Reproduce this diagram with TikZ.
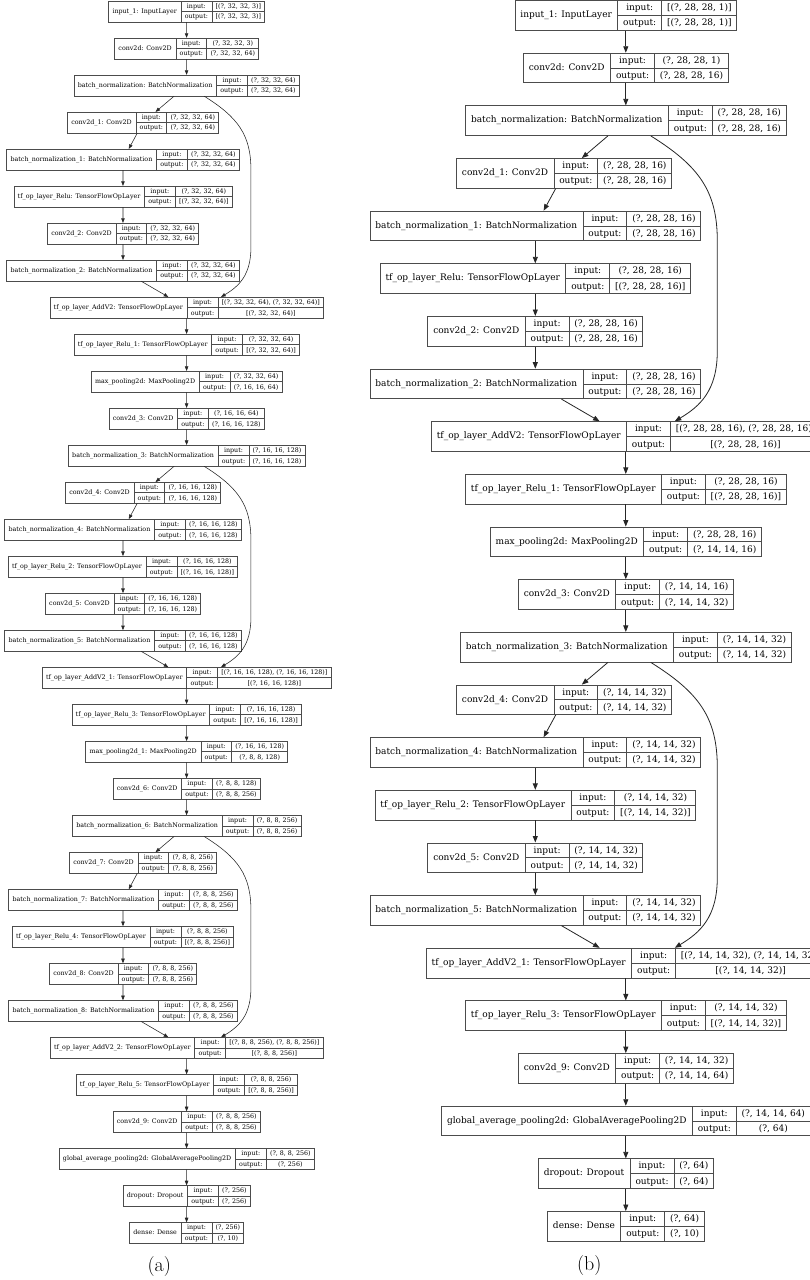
\documentclass[tikz,border=0pt]{standalone}
\usepackage{fontspec}
\usepackage{xcolor,colortbl}
\usetikzlibrary{arrows.meta}
\newfontfamily\kerasfont{DejaVu Serif}
\setlength{\arrayrulewidth}{0.8pt}
\arrayrulecolor{black!70}
\newcommand{\lyr}[3]{%
  \begin{tabular}{@{\hspace{5.5pt}}c@{\hspace{5.5pt}}|@{}c@{}}
    #1 & \begin{tabular}{@{\hspace{5pt}}c@{\hspace{5pt}}|@{\hspace{5pt}}c@{\hspace{5pt}}}
      input: & #2\\ \hline
      output: & #3
    \end{tabular}
  \end{tabular}}
\tikzset{
  layer/.style={draw=black!70, line width=0.8pt, inner sep=0pt, font=\kerasfont\fontsize{9}{14.45}\selectfont},
  arr/.style={-{Triangle[length=6.5pt,width=5pt]}, line width=0.8pt, black!85},
  caption/.style={font=\fontsize{20}{24}\selectfont}
}
\begin{document}
\begin{tikzpicture}[x=1pt,y=-1pt]
\useasboundingbox (0,0) rectangle (810,1280);

% (a)
\begin{scope}[shift={(186.6,11.5)}, scale=0.703, transform shape, y=-52.65pt,
  layer/.append style={line width=0.56pt},
  arr/.append style={-{Triangle[length=4.6pt,width=3.5pt]}, line width=0.56pt}]
\node[layer] (a0) at (0,0) {\lyr{input\_1: InputLayer}{[(?, 32, 32, 3)]}{[(?, 32, 32, 3)]}};
\node[layer] (a1) at (0,1) {\lyr{conv2d: Conv2D}{(?, 32, 32, 3)}{(?, 32, 32, 64)}};
\node[layer] (a2) at (0,2) {\lyr{batch\_normalization: BatchNormalization}{(?, 32, 32, 64)}{(?, 32, 32, 64)}};
\node[layer] (a3) at (-62,3) {\lyr{conv2d\_1: Conv2D}{(?, 32, 32, 64)}{(?, 32, 32, 64)}};
\node[layer] (a4) at (-90.5,4) {\lyr{batch\_normalization\_1: BatchNormalization}{(?, 32, 32, 64)}{(?, 32, 32, 64)}};
\node[layer] (a5) at (-90.5,5) {\lyr{tf\_op\_layer\_Relu: TensorFlowOpLayer}{(?, 32, 32, 64)}{[(?, 32, 32, 64)]}};
\node[layer] (a6) at (-90.5,6) {\lyr{conv2d\_2: Conv2D}{(?, 32, 32, 64)}{(?, 32, 32, 64)}};
\node[layer] (a7) at (-90.5,7) {\lyr{batch\_normalization\_2: BatchNormalization}{(?, 32, 32, 64)}{(?, 32, 32, 64)}};
\node[layer] (a8) at (0,8) {\lyr{tf\_op\_layer\_AddV2: TensorFlowOpLayer}{[(?, 32, 32, 64), (?, 32, 32, 64)]}{[(?, 32, 32, 64)]}};
\node[layer] (a9) at (0,9) {\lyr{tf\_op\_layer\_Relu\_1: TensorFlowOpLayer}{(?, 32, 32, 64)}{[(?, 32, 32, 64)]}};
\node[layer] (a10) at (0,10) {\lyr{max\_pooling2d: MaxPooling2D}{(?, 32, 32, 64)}{(?, 16, 16, 64)}};
\node[layer] (a11) at (0,11) {\lyr{conv2d\_3: Conv2D}{(?, 16, 16, 64)}{(?, 16, 16, 128)}};
\node[layer] (a12) at (0,12) {\lyr{batch\_normalization\_3: BatchNormalization}{(?, 16, 16, 128)}{(?, 16, 16, 128)}};
\node[layer] (a13) at (-62,13) {\lyr{conv2d\_4: Conv2D}{(?, 16, 16, 128)}{(?, 16, 16, 128)}};
\node[layer] (a14) at (-90.5,14) {\lyr{batch\_normalization\_4: BatchNormalization}{(?, 16, 16, 128)}{(?, 16, 16, 128)}};
\node[layer] (a15) at (-90.5,15) {\lyr{tf\_op\_layer\_Relu\_2: TensorFlowOpLayer}{(?, 16, 16, 128)}{[(?, 16, 16, 128)]}};
\node[layer] (a16) at (-90.5,16) {\lyr{conv2d\_5: Conv2D}{(?, 16, 16, 128)}{(?, 16, 16, 128)}};
\node[layer] (a17) at (-90.5,17) {\lyr{batch\_normalization\_5: BatchNormalization}{(?, 16, 16, 128)}{(?, 16, 16, 128)}};
\node[layer] (a18) at (0,18) {\lyr{tf\_op\_layer\_AddV2\_1: TensorFlowOpLayer}{[(?, 16, 16, 128), (?, 16, 16, 128)]}{[(?, 16, 16, 128)]}};
\node[layer] (a19) at (0,19) {\lyr{tf\_op\_layer\_Relu\_3: TensorFlowOpLayer}{(?, 16, 16, 128)}{[(?, 16, 16, 128)]}};
\node[layer] (a20) at (0,20) {\lyr{max\_pooling2d\_1: MaxPooling2D}{(?, 16, 16, 128)}{(?, 8, 8, 128)}};
\node[layer] (a21) at (0,21) {\lyr{conv2d\_6: Conv2D}{(?, 8, 8, 128)}{(?, 8, 8, 256)}};
\node[layer] (a22) at (0,22) {\lyr{batch\_normalization\_6: BatchNormalization}{(?, 8, 8, 256)}{(?, 8, 8, 256)}};
\node[layer] (a23) at (-62,23) {\lyr{conv2d\_7: Conv2D}{(?, 8, 8, 256)}{(?, 8, 8, 256)}};
\node[layer] (a24) at (-90.5,24) {\lyr{batch\_normalization\_7: BatchNormalization}{(?, 8, 8, 256)}{(?, 8, 8, 256)}};
\node[layer] (a25) at (-90.5,25) {\lyr{tf\_op\_layer\_Relu\_4: TensorFlowOpLayer}{(?, 8, 8, 256)}{[(?, 8, 8, 256)]}};
\node[layer] (a26) at (-90.5,26) {\lyr{conv2d\_8: Conv2D}{(?, 8, 8, 256)}{(?, 8, 8, 256)}};
\node[layer] (a27) at (-90.5,27) {\lyr{batch\_normalization\_8: BatchNormalization}{(?, 8, 8, 256)}{(?, 8, 8, 256)}};
\node[layer] (a28) at (0,28) {\lyr{tf\_op\_layer\_AddV2\_2: TensorFlowOpLayer}{[(?, 8, 8, 256), (?, 8, 8, 256)]}{[(?, 8, 8, 256)]}};
\node[layer] (a29) at (0,29) {\lyr{tf\_op\_layer\_Relu\_5: TensorFlowOpLayer}{(?, 8, 8, 256)}{[(?, 8, 8, 256)]}};
\node[layer] (a30) at (0,30) {\lyr{conv2d\_9: Conv2D}{(?, 8, 8, 256)}{(?, 8, 8, 256)}};
\node[layer] (a31) at (0,31) {\lyr{global\_average\_pooling2d: GlobalAveragePooling2D}{(?, 8, 8, 256)}{(?, 256)}};
\node[layer] (a32) at (0,32) {\lyr{dropout: Dropout}{(?, 256)}{(?, 256)}};
\node[layer] (a33) at (0,33) {\lyr{dense: Dense}{(?, 256)}{(?, 10)}};
\draw[arr] (a0) -- (a1);
\draw[arr] (a1) -- (a2);
\draw[arr] (a2) -- (a3);
\draw[arr] (a3) -- (a4);
\draw[arr] (a4) -- (a5);
\draw[arr] (a5) -- (a6);
\draw[arr] (a6) -- (a7);
\draw[arr] (a7) -- (a8);
\draw[arr] (a8) -- (a9);
\draw[arr] (a9) -- (a10);
\draw[arr] (a10) -- (a11);
\draw[arr] (a11) -- (a12);
\draw[arr] (a12) -- (a13);
\draw[arr] (a13) -- (a14);
\draw[arr] (a14) -- (a15);
\draw[arr] (a15) -- (a16);
\draw[arr] (a16) -- (a17);
\draw[arr] (a17) -- (a18);
\draw[arr] (a18) -- (a19);
\draw[arr] (a19) -- (a20);
\draw[arr] (a20) -- (a21);
\draw[arr] (a21) -- (a22);
\draw[arr] (a22) -- (a23);
\draw[arr] (a23) -- (a24);
\draw[arr] (a24) -- (a25);
\draw[arr] (a25) -- (a26);
\draw[arr] (a26) -- (a27);
\draw[arr] (a27) -- (a28);
\draw[arr] (a28) -- (a29);
\draw[arr] (a29) -- (a30);
\draw[arr] (a30) -- (a31);
\draw[arr] (a31) -- (a32);
\draw[arr] (a32) -- (a33);
% shortcuts
\draw[arr] ([xshift=25pt]a2.south) .. controls +(48pt,-30pt) and +(0pt,50pt) .. ++(66.5pt,-105pt) -- ++(0pt,-110pt) .. controls +(0pt,-40pt) and +(25pt,15pt) .. ([xshift=49pt]a8.north);
\draw[arr] ([xshift=25pt]a12.south) .. controls +(48pt,-30pt) and +(0pt,50pt) .. ++(66.5pt,-105pt) -- ++(0pt,-110pt) .. controls +(0pt,-40pt) and +(25pt,15pt) .. ([xshift=49pt]a18.north);
\draw[arr] ([xshift=25pt]a22.south) .. controls +(48pt,-30pt) and +(0pt,50pt) .. ++(66.5pt,-105pt) -- ++(0pt,-110pt) .. controls +(0pt,-40pt) and +(25pt,15pt) .. ([xshift=49pt]a28.north);
\end{scope}

% (b)
\begin{scope}[shift={(625.8,15.35)}, y=-52.65pt]
\node[layer] (b0) at (0,0) {\lyr{input\_1: InputLayer}{[(?, 28, 28, 1)]}{[(?, 28, 28, 1)]}};
\node[layer] (b1) at (0,1) {\lyr{conv2d: Conv2D}{(?, 28, 28, 1)}{(?, 28, 28, 16)}};
\node[layer] (b2) at (0,2) {\lyr{batch\_normalization: BatchNormalization}{(?, 28, 28, 16)}{(?, 28, 28, 16)}};
\node[layer] (b3) at (-61.8,3) {\lyr{conv2d\_1: Conv2D}{(?, 28, 28, 16)}{(?, 28, 28, 16)}};
\node[layer] (b4) at (-90.5,4) {\lyr{batch\_normalization\_1: BatchNormalization}{(?, 28, 28, 16)}{(?, 28, 28, 16)}};
\node[layer] (b5) at (-90.5,5) {\lyr{tf\_op\_layer\_Relu: TensorFlowOpLayer}{(?, 28, 28, 16)}{[(?, 28, 28, 16)]}};
\node[layer] (b6) at (-90.5,6) {\lyr{conv2d\_2: Conv2D}{(?, 28, 28, 16)}{(?, 28, 28, 16)}};
\node[layer] (b7) at (-90.5,7) {\lyr{batch\_normalization\_2: BatchNormalization}{(?, 28, 28, 16)}{(?, 28, 28, 16)}};
\node[layer] (b8) at (0,8) {\lyr{tf\_op\_layer\_AddV2: TensorFlowOpLayer}{[(?, 28, 28, 16), (?, 28, 28, 16)]}{[(?, 28, 28, 16)]}};
\node[layer] (b9) at (0,9) {\lyr{tf\_op\_layer\_Relu\_1: TensorFlowOpLayer}{(?, 28, 28, 16)}{[(?, 28, 28, 16)]}};
\node[layer] (b10) at (0,10) {\lyr{max\_pooling2d: MaxPooling2D}{(?, 28, 28, 16)}{(?, 14, 14, 16)}};
\node[layer] (b11) at (0,11) {\lyr{conv2d\_3: Conv2D}{(?, 14, 14, 16)}{(?, 14, 14, 32)}};
\node[layer] (b12) at (0,12) {\lyr{batch\_normalization\_3: BatchNormalization}{(?, 14, 14, 32)}{(?, 14, 14, 32)}};
\node[layer] (b13) at (-61.8,13) {\lyr{conv2d\_4: Conv2D}{(?, 14, 14, 32)}{(?, 14, 14, 32)}};
\node[layer] (b14) at (-90.5,14) {\lyr{batch\_normalization\_4: BatchNormalization}{(?, 14, 14, 32)}{(?, 14, 14, 32)}};
\node[layer] (b15) at (-90.5,15) {\lyr{tf\_op\_layer\_Relu\_2: TensorFlowOpLayer}{(?, 14, 14, 32)}{[(?, 14, 14, 32)]}};
\node[layer] (b16) at (-90.5,16) {\lyr{conv2d\_5: Conv2D}{(?, 14, 14, 32)}{(?, 14, 14, 32)}};
\node[layer] (b17) at (-90.5,17) {\lyr{batch\_normalization\_5: BatchNormalization}{(?, 14, 14, 32)}{(?, 14, 14, 32)}};
\node[layer] (b18) at (0,18) {\lyr{tf\_op\_layer\_AddV2\_1: TensorFlowOpLayer}{[(?, 14, 14, 32), (?, 14, 14, 32)]}{[(?, 14, 14, 32)]}};
\node[layer] (b19) at (0,19) {\lyr{tf\_op\_layer\_Relu\_3: TensorFlowOpLayer}{(?, 14, 14, 32)}{[(?, 14, 14, 32)]}};
\node[layer] (b20) at (0,20) {\lyr{conv2d\_9: Conv2D}{(?, 14, 14, 32)}{(?, 14, 14, 64)}};
\node[layer] (b21) at (0,21) {\lyr{global\_average\_pooling2d: GlobalAveragePooling2D}{(?, 14, 14, 64)}{(?, 64)}};
\node[layer] (b22) at (0,22) {\lyr{dropout: Dropout}{(?, 64)}{(?, 64)}};
\node[layer] (b23) at (0,23) {\lyr{dense: Dense}{(?, 64)}{(?, 10)}};
\draw[arr] (b0) -- (b1);
\draw[arr] (b1) -- (b2);
\draw[arr] (b2) -- (b3);
\draw[arr] (b3) -- (b4);
\draw[arr] (b4) -- (b5);
\draw[arr] (b5) -- (b6);
\draw[arr] (b6) -- (b7);
\draw[arr] (b7) -- (b8);
\draw[arr] (b8) -- (b9);
\draw[arr] (b9) -- (b10);
\draw[arr] (b10) -- (b11);
\draw[arr] (b11) -- (b12);
\draw[arr] (b12) -- (b13);
\draw[arr] (b13) -- (b14);
\draw[arr] (b14) -- (b15);
\draw[arr] (b15) -- (b16);
\draw[arr] (b16) -- (b17);
\draw[arr] (b17) -- (b18);
\draw[arr] (b18) -- (b19);
\draw[arr] (b19) -- (b20);
\draw[arr] (b20) -- (b21);
\draw[arr] (b21) -- (b22);
\draw[arr] (b22) -- (b23);
% shortcuts
\draw[arr] ([xshift=25pt]b2.south) .. controls +(48pt,-30pt) and +(0pt,50pt) .. ++(66.5pt,-105pt) -- ++(0pt,-110pt) .. controls +(0pt,-40pt) and +(25pt,15pt) .. ([xshift=49pt]b8.north);
\draw[arr] ([xshift=25pt]b12.south) .. controls +(48pt,-30pt) and +(0pt,50pt) .. ++(66.5pt,-105pt) -- ++(0pt,-110pt) .. controls +(0pt,-40pt) and +(25pt,15pt) .. ([xshift=49pt]b18.north);
\end{scope}

\node[caption] (capa) at (159.3,1266) {(a)};
\node[caption] (capb) at (589.3,1265) {(b)};
\end{tikzpicture}
\end{document}
